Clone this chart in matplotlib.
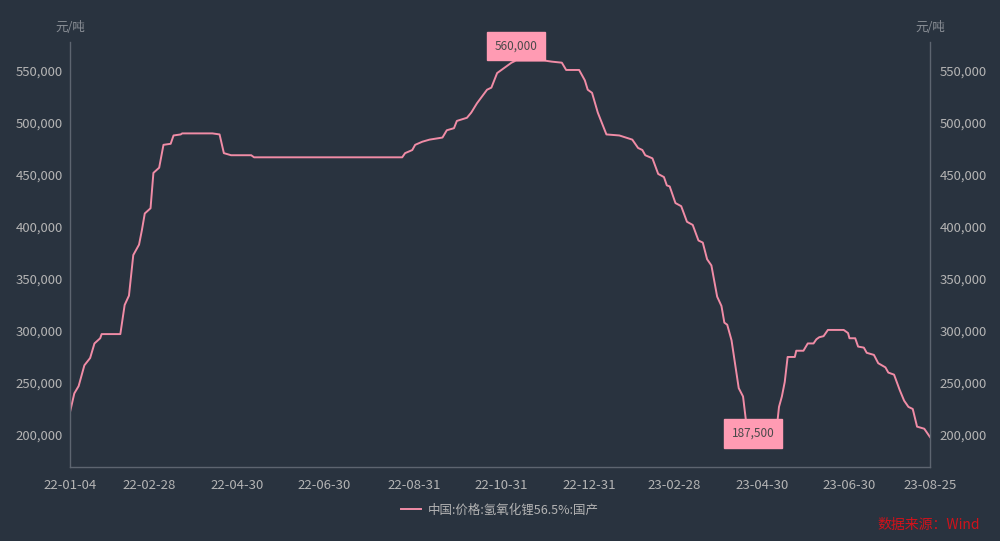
import matplotlib
matplotlib.use("Agg")
import matplotlib.pyplot as plt
import matplotlib.dates as mdates
import pandas as pd

plt.rcParams['font.family'] = ['Noto Sans CJK SC', 'DejaVu Sans']

dates = [
    "2022-01-04", "2022-01-07", "2022-01-10", "2022-01-14", "2022-01-18", "2022-01-21",
    "2022-01-25", "2022-01-26", "2022-02-08", "2022-02-11", "2022-02-14", "2022-02-17",
    "2022-02-21", "2022-02-23", "2022-02-25", "2022-03-01", "2022-03-03", "2022-03-07",
    "2022-03-10", "2022-03-15", "2022-03-17", "2022-03-22", "2022-03-23", "2022-04-13",
    "2022-04-18", "2022-04-21", "2022-04-26", "2022-05-10", "2022-05-12", "2022-08-23",
    "2022-08-25", "2022-08-30", "2022-09-01", "2022-09-06", "2022-09-11", "2022-09-20",
    "2022-09-23", "2022-09-28", "2022-09-30", "2022-10-07", "2022-10-10", "2022-10-14",
    "2022-10-21", "2022-10-24", "2022-10-28", "2022-10-31", "2022-11-03", "2022-11-07",
    "2022-11-10", "2022-11-30", "2022-12-05", "2022-12-12", "2022-12-15", "2022-12-24",
    "2022-12-28", "2022-12-30", "2023-01-02", "2023-01-06", "2023-01-12", "2023-01-21",
    "2023-01-30", "2023-02-03", "2023-02-06", "2023-02-08", "2023-02-13", "2023-02-17",
    "2023-02-21", "2023-02-23", "2023-02-25", "2023-03-01", "2023-03-05", "2023-03-09",
    "2023-03-13", "2023-03-17", "2023-03-20", "2023-03-23", "2023-03-26", "2023-03-30",
    "2023-04-02", "2023-04-04", "2023-04-06", "2023-04-09", "2023-04-14", "2023-04-17",
    "2023-04-19", "2023-04-24", "2023-05-09", "2023-05-11", "2023-05-12", "2023-05-14",
    "2023-05-16", "2023-05-18", "2023-05-23", "2023-05-24", "2023-05-29", "2023-06-01",
    "2023-06-05", "2023-06-07", "2023-06-09", "2023-06-12", "2023-06-15", "2023-06-26",
    "2023-06-29", "2023-06-30", "2023-07-04", "2023-07-06", "2023-07-10", "2023-07-12",
    "2023-07-17", "2023-07-20", "2023-07-25", "2023-07-27", "2023-07-31", "2023-08-04",
    "2023-08-07", "2023-08-10", "2023-08-13", "2023-08-16", "2023-08-21", "2023-08-25",
]
prices = [
    222000, 240000, 247000, 267000, 274000, 288000,
    293000, 297000, 297000, 325000, 334000, 373000,
    383000, 397000, 413000, 418000, 452000, 457000,
    479000, 480000, 488000, 489000, 490000, 490000,
    489000, 471000, 469000, 469000, 467000, 467000,
    471000, 474000, 479000, 482000, 484000, 486000,
    493000, 495000, 502000, 505000, 510000, 519000,
    532000, 534000, 548000, 551000, 554000, 558000,
    560000, 560000, 559000, 558000, 551000, 551000,
    541000, 532000, 529000, 510000, 489000, 488000,
    484000, 476000, 474000, 469000, 466000, 451000,
    448000, 440000, 439000, 423000, 420000, 405000,
    402000, 387000, 385000, 369000, 363000, 333000,
    324000, 308000, 306000, 291000, 245000, 237000,
    214000, 187500, 187500, 214000, 227000, 237000,
    251000, 275000, 275000, 281000, 281000, 288000,
    288000, 292000, 294000, 295000, 301000, 301000,
    298000, 293000, 293000, 285000, 284000, 279000,
    277000, 269000, 265000, 260000, 258000, 243000,
    233000, 227000, 225000, 208000, 206000, 198000,
]
tick_dates = ["2022-01-04", "2022-02-28", "2022-04-30", "2022-06-30", "2022-08-31",
              "2022-10-31", "2022-12-31", "2023-02-28", "2023-04-30", "2023-06-30",
              "2023-08-25"]
y_ticks = [200000, 250000, 300000, 350000, 400000, 450000, 500000, 550000]
series_name = "中国:价格:氢氧化锂56.5%:国产"
unit = "元/吨"
source = "数据来源：Wind"

BG = "#29333f"
LINE = "#f08ca6"
BOX = "#ff9bb3"
TXT = "#b4b4b4"
AX = "#5d6570"

x = pd.to_datetime(dates)
xt = pd.to_datetime(tick_dates)

fig = plt.figure(figsize=(10, 5.41), dpi=100, facecolor=BG)
ax = fig.add_axes([0.07, 0.1368, 0.86, 0.7856], facecolor=BG)
line, = ax.plot(x, prices, color=LINE, lw=1.4, label=series_name)

ax.set_xlim(x[0], x[-1])
ax.set_ylim(169200, 577900)
ax.set_xticks(xt)
ax.xaxis.set_major_formatter(mdates.DateFormatter('%y-%m-%d'))
ax.set_yticks(y_ticks)
ax.yaxis.set_major_formatter(matplotlib.ticker.FuncFormatter(lambda v, p: f"{v:,.0f}"))
ax.tick_params(axis='both', length=0, colors=TXT, labelsize=9.5)
ax.tick_params(axis='x', pad=9)
ax.tick_params(axis='y', pad=5)

ax2 = ax.twinx()
ax2.set_ylim(ax.get_ylim())
ax2.set_yticks(y_ticks)
ax2.yaxis.set_major_formatter(matplotlib.ticker.FuncFormatter(lambda v, p: f"{v:,.0f}"))
ax2.tick_params(axis='y', length=0, colors=TXT, labelsize=9.5, pad=7)

for a in (ax, ax2):
    for s in a.spines.values():
        s.set_visible(False)
ax.spines['left'].set_visible(True)
ax.spines['bottom'].set_visible(True)
ax2.spines['right'].set_visible(True)
for s in (ax.spines['left'], ax.spines['bottom'], ax2.spines['right']):
    s.set_color(AX)
    s.set_linewidth(1)

fig.text(0.07, 0.95, unit, color="#8a8f96", fontsize=9, ha='center', va='center')
fig.text(0.93, 0.95, unit, color="#8a8f96", fontsize=9, ha='center', va='center')

imax = max(range(len(prices)), key=lambda i: prices[i])
imin = min(range(len(prices)), key=lambda i: prices[i])
for i in (imax, imin):
    ax.annotate(f"{prices[i]:,.0f}", xy=(x[i], prices[i]), xytext=(0, 10.5),
                textcoords='offset points', ha='center', va='center',
                fontsize=8.5, color="#4a4a4a", zorder=5,
                bbox=dict(boxstyle='square,pad=0.65', fc=BOX, ec=BOX))

fig.legend(handles=[line], loc='center', bbox_to_anchor=(0.5, 0.057), frameon=False,
           fontsize=9, labelcolor=TXT, handlelength=1.6, handletextpad=0.5)

fig.text(0.98, 0.03, source, color="#d0121b", fontsize=10, ha='right', va='center')

fig.savefig("out.png", dpi=100, facecolor=BG)
